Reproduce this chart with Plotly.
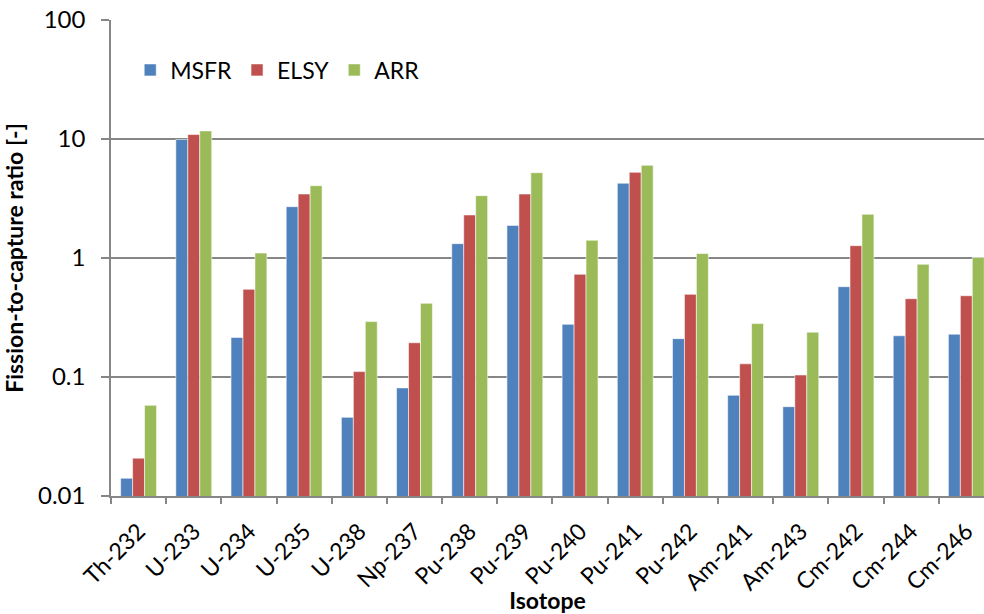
import plotly.graph_objects as go

isotopes = ["Th-232", "U-233", "U-234", "U-235", "U-238", "Np-237", "Pu-238", "Pu-239",
            "Pu-240", "Pu-241", "Pu-242", "Am-241", "Am-243", "Cm-242", "Cm-244", "Cm-246"]
msfr = [0.0141, 9.9, 0.215, 2.70, 0.0458, 0.081, 1.32, 1.88,
        0.277, 4.25, 0.210, 0.0702, 0.0563, 0.574, 0.222, 0.229]
elsy = [0.0208, 10.9, 0.546, 3.45, 0.111, 0.194, 2.30, 3.45,
        0.73, 5.25, 0.495, 0.129, 0.104, 1.27, 0.455, 0.482]
arr = [0.0578, 11.7, 1.10, 4.05, 0.292, 0.416, 3.34, 5.21,
       1.41, 6.01, 1.09, 0.281, 0.238, 2.33, 0.885, 1.01]

y_ticks = [0.01, 0.1, 1, 10, 100]
y_tick_labels = ["0.01", "0.1", "1", "10", "100"]

series = [("MSFR", msfr, "#4F81BD"), ("ELSY", elsy, "#C0504D"), ("ARR", arr, "#9BBB59")]

fig = go.Figure()
for name, vals, col in series:
    fig.add_trace(go.Bar(
        x=isotopes, y=vals, name=name,
        marker=dict(color=col, line=dict(color="rgba(255,255,255,0.55)", width=1)),
    ))

font = "Lato, 'Open Sans', sans-serif"
grey = "#868686"
fig.update_layout(
    width=984, height=614,
    margin=dict(l=111, r=0, t=20, b=118),
    paper_bgcolor="white", plot_bgcolor="white",
    barmode="group", bargap=0.35, bargroupgap=0,
    font=dict(family=font, size=23, color="#000000"),
    showlegend=True,
    legend=dict(orientation="h", x=0.022, y=0.895, xanchor="left", yanchor="middle",
                font=dict(size=23), bgcolor="rgba(0,0,0,0)", itemwidth=30,
                traceorder="normal"),
    xaxis=dict(
        type="category", range=[-0.5, 15.32],
        showline=True, linecolor=grey, linewidth=1.5,
        ticks="outside", ticklen=6, tickcolor=grey, tickwidth=1.5,
        tickson="boundaries", tickangle=-45, tickfont=dict(size=23),
        ticklabelstandoff=11,
        showgrid=False,
        title=dict(text="<b>Isotope</b>", font=dict(size=23), standoff=4),
    ),
    yaxis=dict(
        type="log", range=[-2, 2],
        tickvals=y_ticks, ticktext=y_tick_labels,
        showline=True, linecolor=grey, linewidth=1.5,
        ticks="outside", ticklen=8, tickcolor=grey, tickwidth=1.5,
        showgrid=True, gridcolor=grey, gridwidth=1.5,
        tickfont=dict(size=24), ticklabelstandoff=11,
        title=dict(text="<b>Fission-to-capture ratio [-]</b>", font=dict(size=23), standoff=8),
        zeroline=False,
    ),
)

fig.write_html("out.html")
